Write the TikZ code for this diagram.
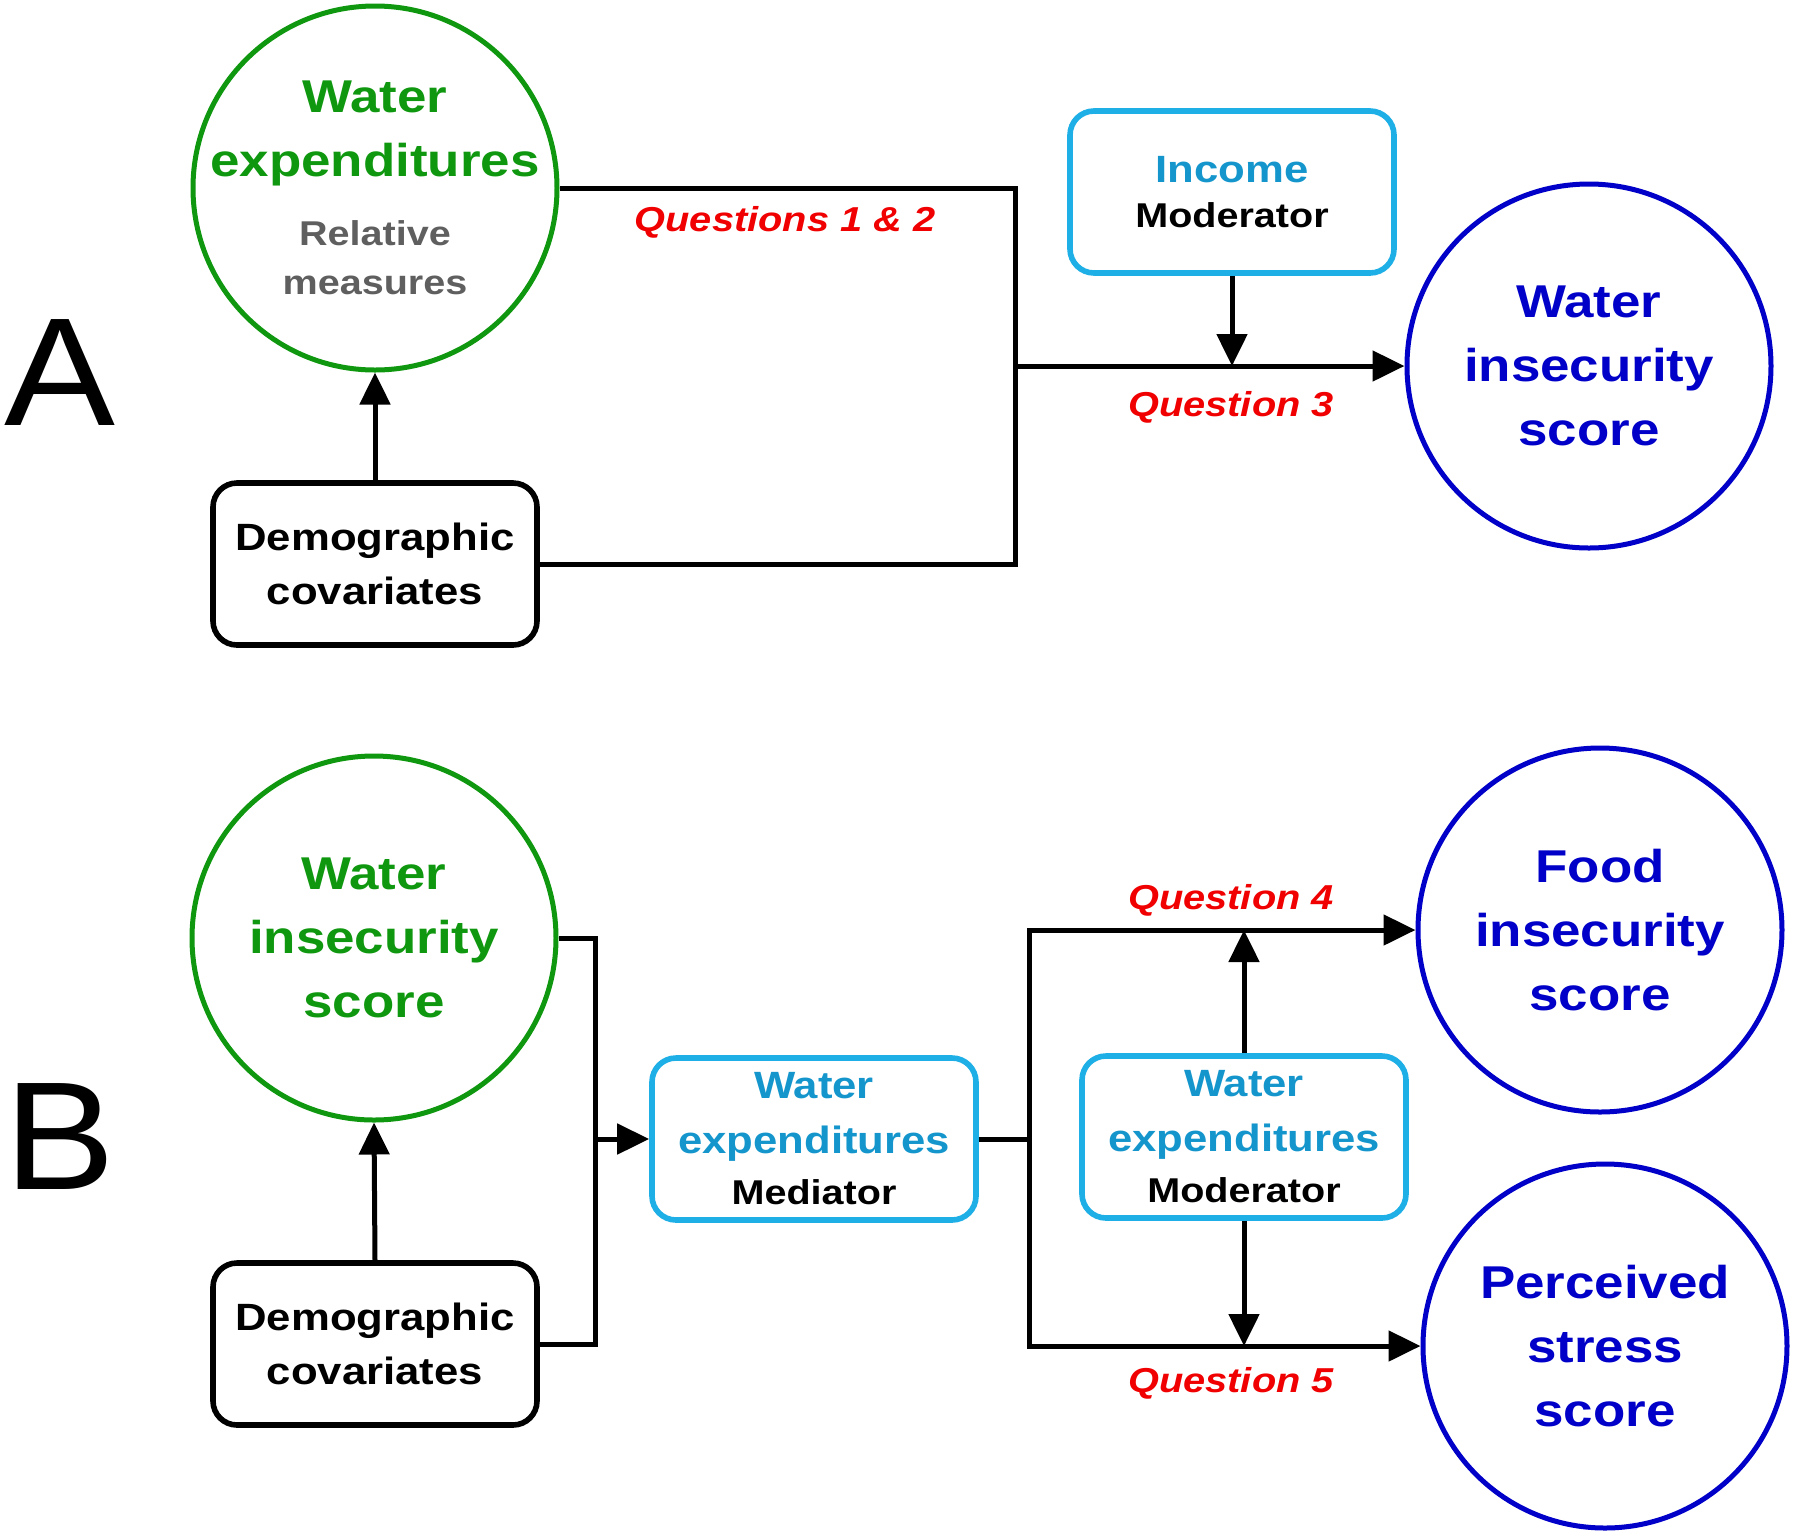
\documentclass[tikz,border=0pt]{standalone}
\usepackage{fontspec}
\setmainfont{Liberation Sans}[FakeStretch=1.15]
\newfontfamily\bigfont{Liberation Sans}[FakeStretch=1.08]
\usetikzlibrary{arrows.meta}
\definecolor{cgreen}{RGB}{15,152,15}
\definecolor{cblue}{RGB}{0,0,200}
\definecolor{lblue}{RGB}{30,175,230}
\definecolor{ltext}{RGB}{20,150,205}
\definecolor{cgray}{RGB}{95,95,95}
\definecolor{cred}{RGB}{240,0,0}
\tikzset{
  circbase/.style={circle, line width=2.5pt, minimum size=182pt, inner sep=-40pt, align=center,
    font=\bfseries\fontsize{23}{32}\selectfont},
  gcirc/.style={circbase, draw=cgreen, text=cgreen},
  bcirc/.style={circbase, draw=cblue, text=cblue},
  dbox/.style={draw=black, rounded corners=12pt, line width=2.8pt, minimum width=162pt,
    minimum height=81pt, inner sep=0pt, align=center, font=\bfseries\fontsize{19}{27}\selectfont},
  lbox/.style={draw=lblue, rounded corners=12pt, line width=2.8pt, minimum width=162pt,
    minimum height=81pt, inner sep=0pt, align=center, text=ltext, font=\bfseries\fontsize{19}{27}\selectfont},
  qlab/.style={text=cred, inner sep=0pt, font=\bfseries\itshape\fontsize{17.3}{20}\selectfont},
  biglab/.style={inner sep=0pt, font=\bigfont\fontsize{77}{77}\selectfont},
  conn/.style={line width=2.5pt},
  arr/.style={conn, -{Triangle[length=16pt,width=15pt]}}
}
\newcommand{\graytxt}{\fontsize{17.2}{24.5}\selectfont\color{cgray}}
\newcommand{\blk}{\fontsize{17.2}{24.5}\selectfont\color{black}}
\begin{document}
\begin{tikzpicture}[x=0.5pt,y=-0.5pt]
\useasboundingbox[fill=white] (0,0) rectangle (1800,1533);
% ---------- Panel A ----------
\node[biglab] (labA) at (60,373) {A};
\node[gcirc] (gA) at (375,188) {Water\\expenditures\\[2.5pt]\graytxt Relative\\[-7.5pt]\graytxt measures};
\node[dbox] (demA) at (375,564) {Demographic\\covariates};
\node[lbox] (incA) at (1232,192) {\raisebox{-2pt}{Income}\\[-2.5pt]\blk Moderator};
\node[bcirc] (wiA) at (1589,366) {Water\\insecurity\\score};
\coordinate (jA) at (1015,366);
\draw[arr] (demA.north) -- (gA.south);
\draw[conn] (gA.east) -- (gA.east -| jA) -- (demA.east -| jA) -- (demA.east);
\draw[arr] (jA) -- (wiA.west);
\draw[arr] (incA.south) -- (incA.south |- jA);
\node[qlab] (q12) at (785,222) {Questions 1 \& 2};
\node[qlab] (q3) at (1231,407) {Question 3};
% ---------- Panel B ----------
\node[biglab] (labB) at (60,1137) {B};
\node[gcirc] (gB) at (374,938) {Water\\insecurity\\score};
\node[dbox] (demB) at (375,1344) {Demographic\\covariates};
\node[lbox] (med) at (814,1139) {Water\\[0.5pt]expenditures\\[-1.5pt]\blk Mediator};
\node[lbox] (modB) at (1244,1137) {Water\\[0.5pt]expenditures\\[-1.5pt]\blk Moderator};
\node[bcirc] (food) at (1600,930) {Food\\insecurity\\score};
\node[bcirc] (stress) at (1605,1346) {Perceived\\stress\\score};
\coordinate (jB) at (595,1139);
\coordinate (jC) at (1029,1139);
\draw[arr] (demB.north) -- (gB.south);
\draw[conn] (gB.east) -- (gB.east -| jB) -- (demB.east -| jB) -- (demB.east);
\draw[arr] (jB) -- (med.west);
\draw[conn] (med.east) -- (jC);
\draw[arr] (jC) -- (jC |- food.west) -- (food.west);
\draw[arr] (jC) -- (jC |- stress.west) -- (stress.west);
\draw[arr] (modB.north) -- (modB.north |- food.west);
\draw[arr] (modB.south) -- (modB.south |- stress.west);
\node[qlab] (q4) at (1231,900) {Question 4};
\node[qlab] (q5) at (1231,1383) {Question 5};
\end{tikzpicture}
\end{document}
